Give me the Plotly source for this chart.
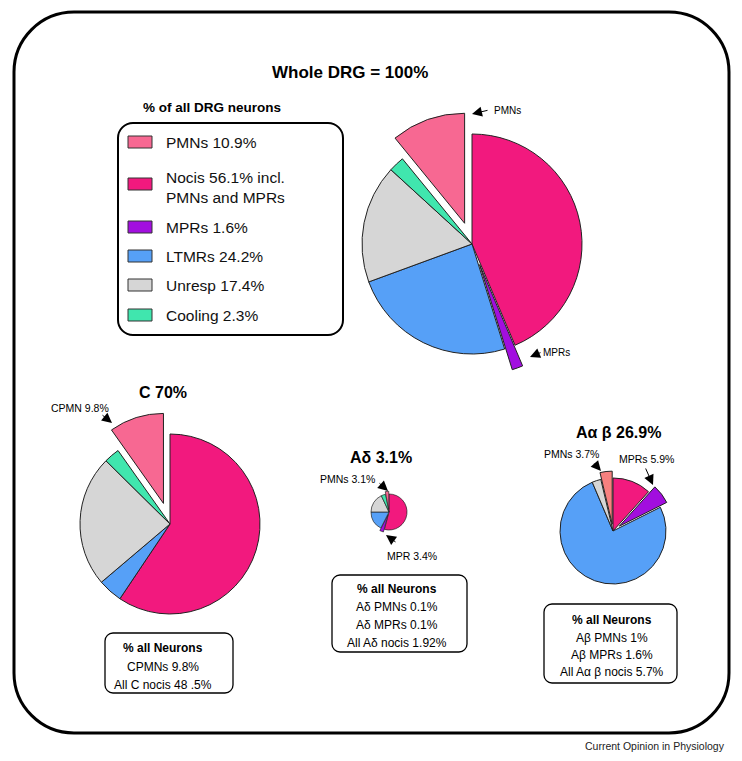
import plotly.graph_objects as go

# The page body has an 8px margin, so the figure is drawn 8px in from the window edge.
OX, OY = 8, 8
FW, FH = 726, 745

# ---------------- data ----------------
categories = ["Nocis", "MPRs", "LTMRs", "Unresp", "Cooling", "PMNs"]
whole_drg_values = [43.6, 1.6, 24.2, 17.4, 2.3, 10.9]   # % of all DRG neurons
c_values = [59.4, 0.0, 4.4, 23.6, 2.8, 9.8]             # % within C fibres
adelta_values = [54.1, 3.4, 17.5, 18.0, 3.9, 3.1]       # % within A-delta
aab_values = [11.7, 5.9, 76.0, 2.7, 0.0, 3.7]           # % within A-alpha/beta

legend_order = ["PMNs", "Nocis", "MPRs", "LTMRs", "Unresp", "Cooling"]
legend_labels = ["PMNs 10.9%", "Nocis 56.1% incl.<br>PMNs and MPRs", "MPRs 1.6%",
                 "LTMRs 24.2%", "Unresp 17.4%", "Cooling 2.3%"]

main_title = "Whole DRG = 100%"
legend_title = "% of all DRG neurons"
c_title = "C 70%"
adelta_title = "Aδ 3.1%"
aab_title = "Aα β 26.9%"

c_box_lines = ["% all Neurons", "CPMNs 9.8%", "All C nocis 48 .5%"]
adelta_box_lines = ["% all Neurons", "Aδ PMNs 0.1%", "Aδ MPRs 0.1%", "All Aδ nocis 1.92%"]
aab_box_lines = ["% all Neurons", "Aβ PMNs 1%", "Aβ MPRs 1.6%", "All Aα β nocis 5.7%"]

# ---------------- styles ----------------
FONT = "Liberation Sans, Arial, Helvetica, sans-serif"
colors = {"Nocis": "#F2197E", "MPRs": "#A20EDF", "LTMRs": "#56A0F7",
          "Unresp": "#D6D6D6", "Cooling": "#40E6AE", "PMNs": "#F76892"}
aab_pmn_color = "#F7807F"


def X(px):
    return (px - OX) / FW


def Y(py):
    return 1 - (py - OY) / FH


fig = go.Figure()


def add_pie(values, cx, cy, r, pulls, lw=1.0, color_over=None):
    labs, vals, cols, pl = [], [], [], []
    for cat, v in zip(categories, values):
        if v <= 0:
            continue
        labs.append(cat)
        vals.append(v)
        c = colors[cat]
        if color_over and cat in color_over:
            c = color_over[cat]
        cols.append(c)
        pl.append(pulls.get(cat, 0))
    mp = max(pl)
    s = r * (1 + mp)
    fig.add_trace(go.Pie(
        labels=labs, values=vals, sort=False, direction="clockwise", rotation=0,
        pull=pl, textinfo="none", showlegend=False,
        marker=dict(colors=cols, line=dict(color="#222222", width=lw)),
        domain=dict(x=[X(cx - s), X(cx + s)], y=[Y(cy + s), Y(cy - s)]),
    ))


add_pie(whole_drg_values, 472, 244, 110, {"PMNs": 0.2, "MPRs": 0.2})
add_pie(c_values, 170, 524, 90, {"PMNs": 0.24})
add_pie(adelta_values, 389, 512, 18, {"PMNs": 0.15, "MPRs": 0.15}, lw=0.7)
add_pie(aab_values, 613, 531, 53, {"PMNs": 0.13, "MPRs": 0.15}, lw=1.0,
        color_over={"PMNs": aab_pmn_color})

shapes = []


def rr_path(x0, y0, x1, y1, r):
    k = 0.5523 * r

    def P(x, y):
        return f"{X(x):.5f},{Y(y):.5f}"
    return (f"M {P(x0 + r, y0)} L {P(x1 - r, y0)} "
            f"C {P(x1 - r + k, y0)} {P(x1, y0 + r - k)} {P(x1, y0 + r)} "
            f"L {P(x1, y1 - r)} "
            f"C {P(x1, y1 - r + k)} {P(x1 - r + k, y1)} {P(x1 - r, y1)} "
            f"L {P(x0 + r, y1)} "
            f"C {P(x0 + r - k, y1)} {P(x0, y1 - r + k)} {P(x0, y1 - r)} "
            f"L {P(x0, y0 + r)} "
            f"C {P(x0, y0 + r - k)} {P(x0 + r - k, y0)} {P(x0 + r, y0)} Z")


def add_rr(x0, y0, x1, y1, r, w, color="#000000"):
    shapes.append(dict(type="path", xref="paper", yref="paper",
                       path=rr_path(x0, y0, x1, y1, r),
                       line=dict(color=color, width=w), fillcolor="rgba(0,0,0,0)"))


# outer frame
add_rr(14, 12, 729, 733, 60, 3)
# legend box
add_rr(118, 123, 343, 335, 15, 2)
# info boxes
add_rr(105, 633, 233, 693, 8, 1.3)
add_rr(332, 575, 467, 652, 8, 1.3)
add_rr(544, 604, 677, 683, 8, 1.3)

# legend swatches
legend_rows_y = [142, 184, 227, 256, 285, 315]
for cat, yy in zip(legend_order, legend_rows_y):
    shapes.append(dict(type="rect", xref="paper", yref="paper",
                       x0=X(128), x1=X(152), y0=Y(yy + 6), y1=Y(yy - 6),
                       fillcolor=colors[cat], line=dict(color="#333333", width=1)))

ann = []


def txt(s, x, y, size, bold=False, xanchor="center", color="#000000"):
    ann.append(dict(text=f"<b>{s}</b>" if bold else s, x=X(x), y=Y(y),
                    xref="paper", yref="paper", showarrow=False,
                    xanchor=xanchor, yanchor="middle",
                    font=dict(family=FONT, size=size, color=color)))


def arrow(tipx, tipy, tailx, taily):
    ann.append(dict(text="", x=X(tipx), y=Y(tipy), xref="paper", yref="paper",
                    ax=tailx - tipx, ay=taily - tipy, axref="pixel", ayref="pixel",
                    showarrow=True, arrowhead=2, arrowsize=2.0, arrowwidth=1,
                    arrowcolor="#000000", standoff=0, startstandoff=0))


txt(main_title, 350, 72, 17, bold=True)
txt(legend_title, 212, 107, 13.5, bold=True)
legend_text_y = [142, 187, 227, 256, 285, 315]
for lab, yy in zip(legend_labels, legend_text_y):
    txt(lab, 164, yy, 15.5, xanchor="left", color="#111111")

txt(c_title, 163, 392, 16, bold=True)
txt(adelta_title, 381, 457, 16, bold=True)
txt(aab_title, 618, 432, 16, bold=True)

# slice labels + arrows
txt("PMNs", 507, 111, 10)
arrow(472, 114, 489, 110)
txt("MPRs", 556, 352, 10)
arrow(530, 357, 542, 352)
txt("CPMN 9.8%", 80, 408, 10.5)
arrow(112, 423, 101, 414)
txt("PMNs 3.1%", 347, 479, 10.5)
arrow(388, 491, 378, 482)
txt("MPR 3.4%", 412, 556, 10.5)
arrow(386, 535, 397, 543)
txt("PMNs 3.7%", 571, 454, 10.5)
arrow(601, 471, 593, 462)
txt("MPRs 5.9%", 646, 459, 10.5)
arrow(653, 485, 645, 467)

# info boxes text
for i, (s, yy) in enumerate(zip(c_box_lines, [648, 667, 685])):
    txt(s, 163, yy, 12, bold=(i == 0))
for i, (s, yy) in enumerate(zip(adelta_box_lines, [589, 607, 625, 643])):
    txt(s, 397, yy, 12, bold=(i == 0))
for i, (s, yy) in enumerate(zip(aab_box_lines, [620, 638, 655, 672])):
    txt(s, 612, yy, 12, bold=(i == 0))

txt("Current Opinion in Physiology", 727, 746, 10.5, xanchor="right", color="#222222")

fig.update_layout(
    width=FW, height=FH, margin=dict(l=0, r=0, t=0, b=0),
    paper_bgcolor="#FFFFFF", plot_bgcolor="#FFFFFF",
    shapes=shapes, annotations=ann, showlegend=False,
    font=dict(family=FONT),
)

fig.write_html("out.html")
